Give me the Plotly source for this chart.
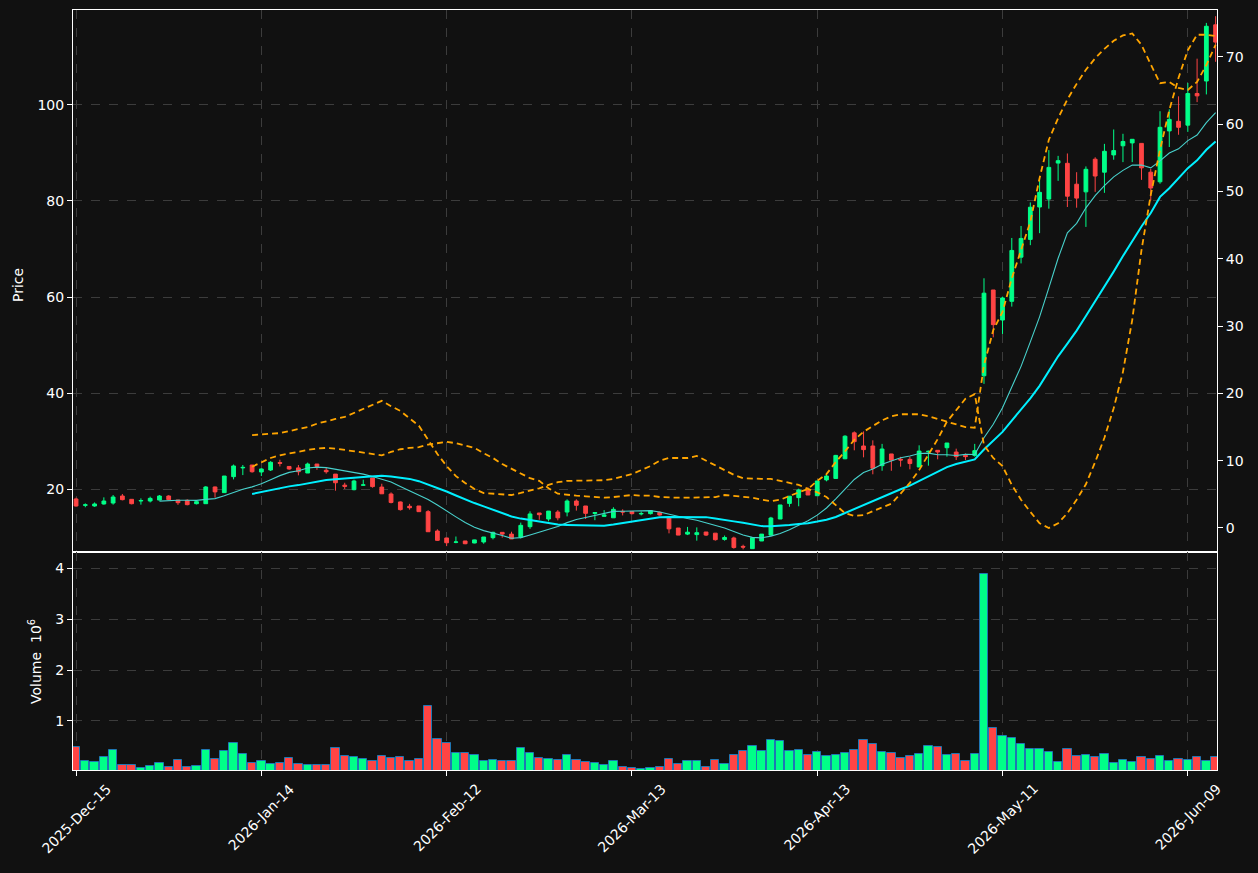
import pandas as pd
import numpy as np
import plotly.graph_objects as go

# ---------------- data ----------------
holidays = ["2025-12-25", "2026-01-01", "2026-01-19", "2026-02-16", "2026-04-03", "2026-05-25"]
dates = pd.bdate_range("2025-12-15", "2026-06-12", freq="C", holidays=holidays)

open_ = [17.92, 16.6, 16.46, 16.88, 17.08, 18.54, 17.85, 17.5, 17.5, 17.7,
         18.54, 17.7, 17.64, 16.94, 16.94, 20.42, 19.24, 22.57, 24.4, 25.0,
         23.54, 23.96, 25.5, 24.7, 24.4, 23.33, 25.2, 23.9, 23.1, 20.8,
         19.86, 20.8, 22.3, 20.4, 18.96, 17.3, 16.4, 16.46, 15.28, 11.25,
         9.8, 8.9, 9.17, 8.75, 8.96, 9.86, 10.97, 10.6, 9.93, 12.15,
         15.0, 13.75, 15.2, 15.2, 17.5, 16.46, 14.9, 14.3, 14.0, 15.35,
         15.3, 14.8, 14.86, 15.14, 14.0, 11.87, 10.6, 10.5, 11.04, 10.8,
         9.5, 9.8, 8.05, 7.57, 9.17, 10.4, 13.75, 17.0, 18.2, 19.8,
         18.6, 21.9, 22.2, 26.3, 31.7, 28.96, 28.96, 24.86, 27.3, 26.2,
         26.18, 24.58, 27.8, 28.06, 28.6, 27.7, 27.0, 27.0, 43.6, 61.46,
         55.2, 59.1, 68.3, 72.0, 78.75, 80.4, 87.9, 87.85, 83.5, 81.9,
         88.7, 86.0, 89.6, 91.5, 92.1, 92.0, 86.0, 84.0, 94.6, 96.6,
         95.8, 102.4, 105.0, 116.7]
high = [18.19, 17.0, 17.2, 18.26, 18.75, 18.96, 17.9, 18.05, 18.4, 18.75,
        18.7, 17.7, 17.85, 17.7, 20.6, 20.5, 22.7, 25.1, 25.0, 25.0,
        24.3, 25.8, 26.1, 24.7, 25.0, 25.5, 25.2, 24.4, 23.1, 21.3,
        21.94, 21.94, 22.3, 21.1, 19.3, 17.4, 16.9, 16.46, 15.6, 11.6,
        9.8, 10.1, 9.17, 9.44, 10.0, 11.1, 10.97, 11.1, 13.0, 15.35,
        15.0, 15.4, 15.6, 17.85, 17.85, 16.46, 15.2, 15.6, 16.2, 15.76,
        15.3, 15.3, 15.6, 15.3, 14.0, 11.87, 12.1, 12.0, 11.04, 10.8,
        10.3, 10.07, 8.4, 9.86, 10.6, 14.2, 16.67, 18.5, 20.07, 20.35,
        21.67, 23.0, 27.1, 31.2, 32.0, 32.0, 30.14, 29.4, 27.3, 26.7,
        26.7, 29.1, 28.0, 28.06, 29.58, 28.4, 27.4, 29.4, 63.9, 61.46,
        60.07, 72.3, 74.8, 79.7, 85.0, 90.6, 89.4, 89.9, 86.0, 87.2,
        89.1, 91.9, 94.9, 94.0, 92.85, 92.0, 86.7, 98.7, 99.1, 101.8,
        104.6, 109.65, 117.1, 118.5]
low = [16.32, 16.2, 16.3, 16.74, 16.74, 17.64, 16.8, 16.74, 17.2, 17.64,
       17.64, 16.7, 16.6, 16.8, 16.94, 18.2, 19.2, 22.0, 22.9, 23.4,
       22.7, 23.75, 24.7, 24.0, 22.85, 23.33, 24.0, 23.2, 19.65, 20.0,
       19.72, 20.7, 20.28, 19.0, 17.0, 15.5, 15.7, 15.28, 11.1, 9.17,
       8.1, 8.7, 8.5, 8.7, 8.6, 9.5, 9.86, 9.6, 9.7, 11.7,
       13.6, 13.26, 13.47, 14.3, 15.5, 13.75, 13.5, 14.3, 14.0, 14.5,
       14.7, 14.5, 14.7, 14.44, 10.76, 10.4, 10.4, 9.24, 10.2, 9.24,
       9.24, 7.57, 7.43, 7.57, 9.17, 10.2, 13.75, 16.3, 16.4, 18.75,
       18.6, 21.6, 22.1, 26.2, 28.06, 26.6, 23.06, 23.8, 23.8, 24.65,
       24.1, 24.58, 24.86, 26.18, 26.74, 26.04, 26.04, 26.74, 41.9, 51.6,
       52.3, 58.0, 67.0, 70.8, 73.3, 78.4, 84.2, 78.75, 78.6, 74.6,
       81.9, 81.7, 88.6, 88.1, 88.1, 84.4, 80.1, 83.6, 91.25, 93.8,
       94.4, 100.6, 102.2, 109.0]
close = [16.46, 16.7, 16.88, 17.5, 18.33, 17.78, 16.94, 17.6, 18.05, 18.54,
         17.78, 17.15, 16.74, 17.36, 20.42, 19.4, 22.7, 24.8, 24.5, 23.6,
         24.17, 25.56, 25.35, 24.17, 23.6, 25.2, 24.7, 23.6, 21.3, 20.55,
         21.67, 20.85, 20.5, 19.0, 17.2, 15.7, 16.1, 15.28, 11.1, 9.3,
         8.8, 8.96, 8.6, 9.4, 10.0, 10.97, 10.6, 9.6, 12.43, 14.8,
         14.65, 15.4, 14.0, 17.5, 16.6, 14.93, 15.1, 14.6, 15.76, 15.2,
         14.86, 14.9, 15.5, 14.58, 11.7, 10.4, 11.0, 10.9, 10.4, 9.44,
         9.9, 7.8, 7.9, 9.86, 10.6, 13.96, 16.67, 18.5, 19.8, 18.75,
         21.67, 22.7, 27.0, 31.0, 29.86, 28.2, 24.3, 28.33, 26.0, 26.04,
         25.3, 27.9, 27.85, 27.7, 29.58, 26.74, 26.74, 27.99, 60.8, 54.24,
         59.8, 69.7, 72.2, 78.7, 81.8, 87.0, 88.4, 81.0, 80.6, 86.6,
         85.2, 90.35, 90.5, 92.4, 92.85, 86.9, 82.7, 95.35, 97.0, 95.35,
         102.4, 101.9, 116.4, 113.1]
volume_m = [0.49, 0.216, 0.196, 0.294, 0.431, 0.137, 0.137, 0.078, 0.118, 0.176,
            0.098, 0.235, 0.092, 0.118, 0.431, 0.255, 0.412, 0.569, 0.353, 0.176,
            0.216, 0.157, 0.176, 0.275, 0.157, 0.131, 0.137, 0.137, 0.47, 0.314,
            0.294, 0.255, 0.216, 0.314, 0.275, 0.294, 0.216, 0.255, 1.294, 0.647,
            0.569, 0.373, 0.373, 0.333, 0.216, 0.235, 0.216, 0.216, 0.47, 0.373,
            0.275, 0.255, 0.235, 0.333, 0.235, 0.196, 0.176, 0.137, 0.216, 0.098,
            0.078, 0.059, 0.078, 0.098, 0.255, 0.157, 0.216, 0.216, 0.098, 0.235,
            0.157, 0.333, 0.412, 0.51, 0.412, 0.627, 0.608, 0.412, 0.431, 0.333,
            0.392, 0.314, 0.333, 0.373, 0.431, 0.627, 0.549, 0.392, 0.373, 0.275,
            0.314, 0.353, 0.51, 0.49, 0.333, 0.353, 0.216, 0.353, 3.882, 0.863,
            0.706, 0.667, 0.549, 0.451, 0.451, 0.392, 0.196, 0.451, 0.314, 0.333,
            0.294, 0.353, 0.176, 0.235, 0.196, 0.294, 0.255, 0.314, 0.216, 0.255,
            0.235, 0.294, 0.216, 0.294]
# dashed indicator lines on the right-hand axis (start at bar 19)
band_a = [None] * 19 + [
    13.8, 13.9, 14.0, 14.1, 14.4, 14.7, 15.0, 15.5, 15.9, 16.2, 16.5, 17.1, 17.7, 18.3, 18.9,
    18.1, 17.4, 16.3, 15.2, 13.1, 11.0, 9.2, 7.7, 6.7, 5.8, 5.2, 5.1, 4.9, 4.9, 5.2,
    5.5, 5.9, 6.4, 6.8, 7.0, 7.0, 7.0, 7.1, 7.1, 7.3, 7.6, 8.0, 8.6, 9.2, 10.0,
    10.4, 10.4, 10.4, 10.7, 10.0, 9.2, 8.6, 7.9, 7.4, 7.3, 7.3, 7.3, 7.0, 6.7, 6.4, 5.8,
    5.3, 4.6, 3.4, 2.2, 1.8, 1.9, 2.5, 3.1, 3.6, 5.1, 6.7, 8.6, 10.8, 13.2, 15.8,
    17.5, 19.2, 19.9, 12.3, 10.4, 9.2, 6.4, 4.2, 2.4, 0.7, 0.0, 0.7, 2.2, 4.2, 6.5,
    9.8, 13.4, 17.8, 23.2, 30.9, 41.3, 49.5, 56.2, 62.1, 66.9, 71.0, 73.3, 73.3, 73.1]
band_b = [None] * 19 + [
    9.1, 9.8, 10.4, 10.8, 11.1, 11.4, 11.6, 11.8, 11.9, 11.8, 11.6, 11.4, 11.2, 11.0, 10.8,
    11.3, 11.7, 11.9, 12.0, 12.4, 12.6, 12.8, 12.6, 12.3, 11.9, 11.1, 10.4, 9.5, 8.8, 8.0,
    7.4, 7.0, 5.9, 5.1, 4.9, 4.8, 4.7, 4.6, 4.5, 4.6, 4.8, 4.9, 4.8, 4.8, 4.6,
    4.5, 4.5, 4.5, 4.5, 4.5, 4.6, 4.9, 4.8, 4.6, 4.5, 4.2, 4.0, 4.2, 4.8, 5.3, 5.8,
    7.0, 8.0, 9.8, 11.4, 13.1, 14.3, 15.2, 16.0, 16.6, 16.9, 16.9, 16.9, 16.6, 16.2, 15.8,
    15.3, 15.0, 14.9, 24.2, 29.4, 32.1, 37.1, 41.3, 45.5, 52.0, 57.7, 60.9, 63.7, 66.0, 68.1,
    69.8, 71.2, 72.4, 73.2, 73.5, 71.8, 68.9, 66.1, 66.3, 65.4, 65.1, 66.3, 68.8, 71.8]
tick_step = 20

n = len(close)
idx = list(range(n))
ma10 = pd.Series(close).rolling(10).mean()
ma20 = pd.Series(close).rolling(20).mean()

UP, DOWN = "#00ff88", "#ff4444"
BG = "#111111"
GRID = "#3c3c3c"
FONT = "DejaVu Sans"
vol_colors = [UP if c >= o else DOWN for o, c in zip(open_, close)]

W, H = 1258, 873
def px_x(v): return v / W
def px_y(v): return (H - v) / H

fig = go.Figure()
fig.add_trace(go.Candlestick(
    x=idx, open=open_, high=high, low=low, close=close,
    increasing=dict(line=dict(color=UP, width=1), fillcolor=UP),
    decreasing=dict(line=dict(color=DOWN, width=1), fillcolor=DOWN),
    whiskerwidth=0, xaxis="x", yaxis="y", showlegend=False, hoverinfo="skip"))
fig.add_trace(go.Scatter(x=idx, y=ma10, mode="lines", line=dict(color="#48d1cc", width=1.1),
                         xaxis="x", yaxis="y", showlegend=False, hoverinfo="skip"))
fig.add_trace(go.Scatter(x=idx, y=ma20, mode="lines", line=dict(color="#00f0ff", width=2),
                         xaxis="x", yaxis="y", showlegend=False, hoverinfo="skip"))
for band in (band_a, band_b):
    fig.add_trace(go.Scatter(x=idx, y=band, mode="lines",
                             line=dict(color="#ffa500", width=1.8, dash="6px,4px"),
                             xaxis="x", yaxis="y3", showlegend=False, hoverinfo="skip"))
fig.add_trace(go.Bar(x=idx, y=volume_m, marker=dict(color=vol_colors, line=dict(color="#1f77b4", width=1)),
                     width=0.9, xaxis="x2", yaxis="y2", showlegend=False, hoverinfo="skip"))

xdom = [px_x(73), px_x(1217)]
xr = [-0.33, 123.15]
tickvals = list(range(0, n, tick_step))
ticktext = [dates[i].strftime("%Y-%b-%d") for i in tickvals]

axis_common = dict(showline=True, linecolor="white", linewidth=1, mirror=True,
                   gridcolor=GRID, griddash="dash", gridwidth=1, zeroline=False,
                   tickfont=dict(color="white", size=14, family=FONT), tickcolor="white",
                   ticks="outside", ticklen=5)

fig.update_layout(
    width=W, height=H, margin=dict(l=0, r=0, t=0, b=0),
    paper_bgcolor=BG, plot_bgcolor=BG, boxgap=0.42, bargap=0,
    font=dict(family=FONT, color="white", size=14),
    xaxis=dict(domain=xdom, range=xr, anchor="y", tickvals=tickvals, showticklabels=False,
               rangeslider=dict(visible=False), **{k: v for k, v in axis_common.items() if k not in ("ticks",)}, ticks=""),
    xaxis2=dict(domain=xdom, range=xr, anchor="y2", tickvals=tickvals, showticklabels=False,
                matches="x", **axis_common),
    yaxis=dict(domain=[px_y(552), px_y(10)], range=[6.875, 119.79], tickvals=[20, 40, 60, 80, 100],
               **axis_common),
    yaxis3=dict(overlaying="y", side="right", anchor="x", range=[-3.57, 76.98],
                tickvals=[0, 10, 20, 30, 40, 50, 60, 70], showgrid=False, zeroline=False,
                showline=True, linecolor="white", tickcolor="white", ticks="outside", ticklen=5,
                tickfont=dict(color="white", size=14, family=FONT)),
    yaxis2=dict(domain=[px_y(770), px_y(552)], range=[0.039, 4.314], tickvals=[1, 2, 3, 4],
                **axis_common),
)

annotations = []
for i, t in zip(tickvals, ticktext):
    annotations.append(dict(x=i, xref="x2", y=px_y(778), yref="paper", text=t, textangle=-45,
                            xanchor="center", yanchor="top", showarrow=False,
                            font=dict(size=14, color="white", family=FONT)))
annotations.append(dict(x=px_x(18), y=px_y(285), xref="paper", yref="paper", text="Price",
                        textangle=-90, showarrow=False, xanchor="center", yanchor="middle",
                        font=dict(size=14, color="white", family=FONT)))
annotations.append(dict(x=px_x(35), y=px_y(662), xref="paper", yref="paper",
                        text="Volume  10<sup>6</sup>", textangle=-90, showarrow=False,
                        xanchor="center", yanchor="middle",
                        font=dict(size=14, color="white", family=FONT)))
fig.update_layout(annotations=annotations)

fig.write_html("out.html")
